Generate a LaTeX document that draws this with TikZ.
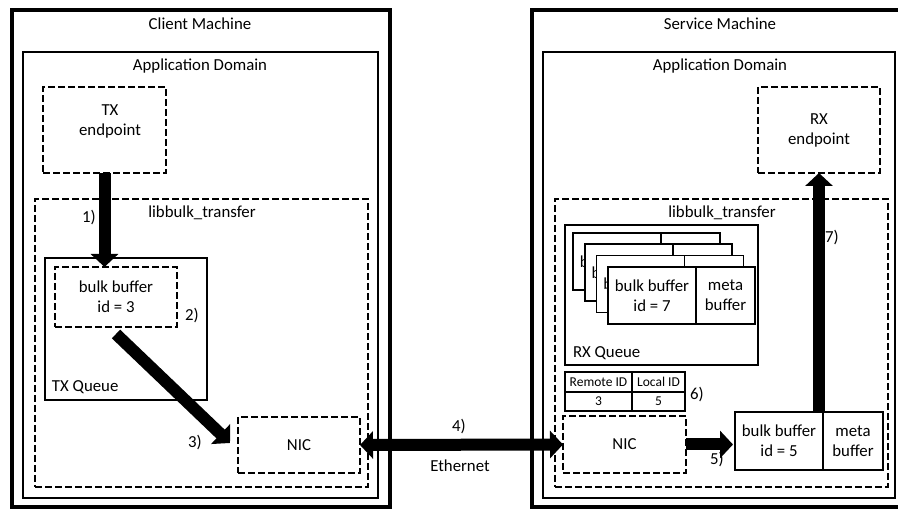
\documentclass[tikz,border=0pt]{standalone}
\usepackage{fontspec}
\setmainfont{Carlito}
\usetikzlibrary{arrows.meta}
\begin{document}
\begin{tikzpicture}[x=1pt,y=-1pt,
  every node/.style={font=\fontsize{16.8}{20}\selectfont, inner sep=0pt, outer sep=0pt},
  machine/.style={draw, line width=4.5pt, anchor=north west},
  appbox/.style={draw, line width=1.8pt, anchor=north west},
  dbox/.style={draw, line width=1.8pt, dash pattern=on 7pt off 3pt, anchor=north west, align=center},
  sbox/.style={draw, line width=1.8pt, anchor=north west, fill=white},
  cell/.style={draw, line width=1.8pt, fill=white, align=center, minimum height=57pt},
  tcell/.style={draw, line width=1.2pt, font=\fontsize{13.5}{16}\selectfont},
  bigarrow/.style={line width=12pt, -{Triangle[width=27pt,length=13pt]}},
  bigdouble/.style={line width=12pt, {Triangle[width=27pt,length=13pt]}-{Triangle[width=27pt,length=13pt]}}
]
\useasboundingbox (0,0) rectangle (898,510);
\clip (0,0) rectangle (898,510);

% ---------------- client side ----------------
\node[machine, minimum width=378pt, minimum height=497pt] (cm) at (12,10) {};
\node (cmT) at (200,24) {Client Machine};
\node[appbox, minimum width=355pt, minimum height=446pt] (ad1) at (23,52) {};
\node (ad1T) at (200,66) {Application Domain};

\node[dbox, minimum width=123pt, minimum height=86pt] (txe) at (43,87) {};
\node[align=center] (txeT) at (110,121.5) {TX\\endpoint};

\node[dbox, minimum width=333pt, minimum height=288pt] (lb1) at (35,199) {};
\node (lb1T) at (202,213) {libbulk\_transfer};

\node[sbox, minimum width=162pt, minimum height=142pt] (txq) at (45,258) {};
\node[anchor=west] (txqT) at (52,387) {TX Queue};
\node[dbox, minimum width=122pt, minimum height=60pt] (bb3) at (55,267) {bulk buffer\\id = 3};

\node[dbox, minimum width=122pt, minimum height=56pt] (nicA) at (238,417) {NIC};

% ---------------- service side ----------------
\node[machine, minimum width=380pt, minimum height=497pt] (sm) at (532,10) {};
\node (smT) at (720,24) {Service Machine};
\node[appbox, minimum width=352pt, minimum height=446pt] (ad2) at (543,52) {};
\node (ad2T) at (720,66) {Application Domain};

\node[dbox, minimum width=122pt, minimum height=86pt] (rxe) at (758,87) {RX\\endpoint};

\node[dbox, minimum width=333pt, minimum height=288pt] (lb2) at (555,199) {};
\node (lb2T) at (722,213) {libbulk\_transfer};

\node[sbox, minimum width=193pt, minimum height=140pt] (rxq) at (565,225) {};
\node[anchor=west] (rxqT) at (573,353) {RX Queue};

% stacked receive buffers, back to front
\foreach \k in {0,1,2} {
  \node[cell, minimum width=88pt, anchor=north west] (stkL\k) at ({573+11.7*\k},{233+11.3*\k}) {bulk buffer};
  \node[cell, minimum width=59pt, anchor=west] (stkR\k) at (stkL\k.east) {};
}
\node[cell, minimum width=88pt, anchor=north west] (stkL3) at (608,267) {bulk buffer\\id = 7};
\node[cell, minimum width=59pt, anchor=west] (stkR3) at (stkL3.east) {meta\\buffer};

% id mapping table
\node[tcell, minimum width=67pt, minimum height=20pt, anchor=north west] (tRemote) at (565,372) {Remote ID};
\node[tcell, minimum width=53pt, minimum height=20pt, anchor=west] (tLocal) at (tRemote.east) {Local ID};
\node[tcell, minimum width=67pt, minimum height=19pt, anchor=north] (tRv) at (tRemote.south) {3};
\node[tcell, minimum width=53pt, minimum height=19pt, anchor=north] (tLv) at (tLocal.south) {5};

\node[dbox, minimum width=123pt, minimum height=57pt] (nicB) at (563,416) {NIC};

\node[cell, minimum width=88pt, minimum height=58pt, anchor=north west] (bb5) at (735,412) {bulk buffer\\id = 5};
\node[cell, minimum width=60pt, minimum height=58pt, anchor=west] (bb5m) at (bb5.east) {meta\\buffer};

% ---------------- data flow ----------------
\draw[bigarrow] (txe.south) -- (txe.south |- bb3.north);
\draw[bigarrow] ([yshift=-7pt]bb3.south) -- ([xshift=-8pt,yshift=2pt]nicA.west);
\draw[bigdouble] (nicA.east) -- (nicB.west);
\draw[bigarrow] (nicB.east) -- ([xshift=-2pt]nicB.east -| bb5.west);
\draw[bigarrow] (bb5.north -| rxe.south) -- (rxe.south);

% step labels
\node (s1) at (89,218) {1)};
\node (s2) at (192,316) {2)};
\node (s3) at (195,443) {3)};
\node (s4) at (459,427) {4)};
\node (eth) at (460,466) {Ethernet};
\node (s5) at (717,460) {5)};
\node (s6) at (697,395) {6)};
\node (s7) at (832,238) {7)};
\end{tikzpicture}
\end{document}
